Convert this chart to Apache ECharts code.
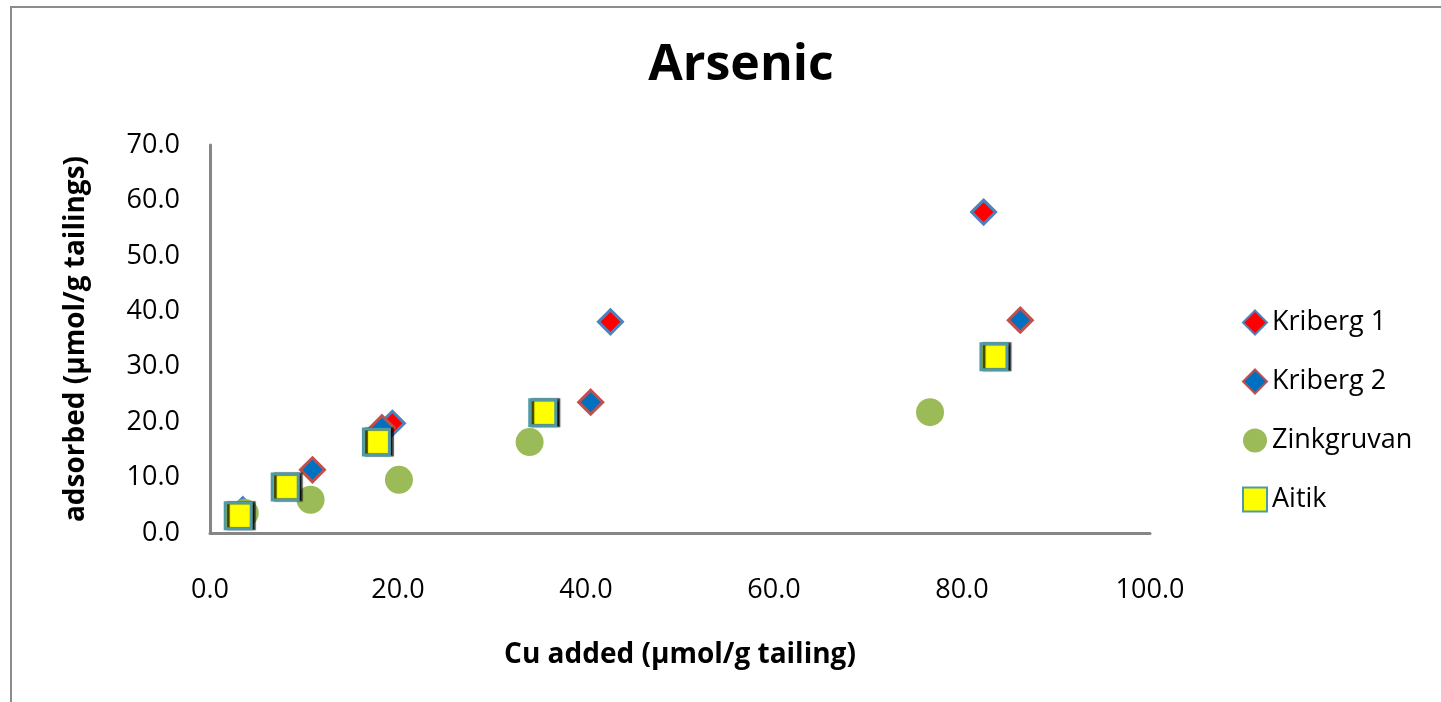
<!DOCTYPE html>
<html>
<head>
<meta charset="utf-8">
<title>Arsenic</title>
<script src="https://cdn.jsdelivr.net/npm/echarts@6/dist/echarts.min.js"></script>
<style>
    html, body { margin: 0; padding: 0; background: #fff; }
    #chart { width: 1441px; height: 702px; }
</style>
</head>
<body>
<div id="chart"></div>
<script>
// values: [Cu added, As adsorbed]
var kriberg1 = [[3.5, 4.2], [19.4, 19.8], [42.6, 38.1], [82.3, 57.9]];
var kriberg2 = [[10.9, 11.4], [18.3, 19.0], [40.5, 23.6], [86.2, 38.4]];
var zinkgruvan = [[3.7, 3.6], [10.7, 6.0], [20.1, 9.6], [34.0, 16.4], [76.6, 21.8]];
var aitik = [[3.0, 3.1], [8.0, 8.3], [17.7, 16.4], [35.4, 21.7], [83.4, 31.8]];
var seriesNames = ['Kriberg 1', 'Kriberg 2', 'Zinkgruvan', 'Aitik'];

var font = '"Open Sans", "Noto Sans", sans-serif';

function oneDecimal (v) {
    return v.toFixed(1);
}

function drawChart () {
    var myChart = echarts.init(document.getElementById('chart'));

    var option = {
        backgroundColor: '#fff',
        textStyle: { fontFamily: font },
        title: {
            text: 'Arsenic',
            left: 736,
            top: 36,
            textAlign: 'center',
            textStyle: { fontSize: 50, fontWeight: 'bold', color: '#000', fontFamily: font }
        },
        graphic: [
            {
                type: 'rect',
                shape: { x: 11, y: 7, width: 1500, height: 800 },
                style: { fill: 'none', stroke: '#8c8c8c', lineWidth: 2 },
                silent: true
            }
        ],
        legend: {
            orient: 'vertical',
            left: 1237,
            top: 299,
            itemWidth: 24,
            itemHeight: 24,
            itemGap: 22,
            textStyle: { fontSize: 27, color: '#000', fontFamily: font, lineHeight: 37 },
            data: seriesNames
        },
        grid: {
            left: 210,
            right: 291,
            top: 145,
            bottom: 169,
            containLabel: false
        },
        xAxis: {
            type: 'value',
            min: 0,
            max: 100,
            interval: 20,
            name: 'Cu added (µmol/g tailing)',
            nameLocation: 'middle',
            nameGap: 108,
            nameTextStyle: { fontSize: 28, fontWeight: 'bold', color: '#000', fontFamily: font },
            axisLine: { show: true, lineStyle: { color: '#868686', width: 3 } },
            axisTick: { show: false },
            splitLine: { show: false },
            axisLabel: { formatter: oneDecimal, fontSize: 27, color: '#000', margin: 44, fontFamily: font }
        },
        yAxis: {
            type: 'value',
            min: 0,
            max: 70,
            interval: 10,
            name: 'adsorbed (µmol/g tailings)',
            nameLocation: 'middle',
            nameGap: 120,
            nameTextStyle: { fontSize: 28, fontWeight: 'bold', color: '#000', fontFamily: font },
            axisLine: { show: true, lineStyle: { color: '#868686', width: 3 } },
            axisTick: { show: false },
            splitLine: { show: false },
            axisLabel: { formatter: oneDecimal, fontSize: 27, color: '#000', margin: 30, fontFamily: font }
        },
        series: [
            {
                name: 'Kriberg 1',
                type: 'scatter',
                symbol: 'diamond',
                symbolSize: 24,
                itemStyle: { color: '#ff0000', borderColor: '#4f81bd', borderWidth: 3, opacity: 1 },
                data: kriberg1
            },
            {
                name: 'Kriberg 2',
                type: 'scatter',
                symbol: 'diamond',
                symbolSize: 24,
                itemStyle: { color: '#0070c0', borderColor: '#c0504d', borderWidth: 3, opacity: 1 },
                data: kriberg2
            },
            {
                name: 'Zinkgruvan',
                type: 'scatter',
                symbol: 'circle',
                symbolSize: 28,
                itemStyle: { color: '#9bbb59', opacity: 1 },
                data: zinkgruvan
            },
            {
                name: 'Aitik',
                type: 'scatter',
                symbol: 'rect',
                symbolSize: 26,
                itemStyle: {
                    color: '#ffff00',
                    borderColor: '#4f9aa6',
                    borderWidth: 3,
                    shadowColor: 'rgba(0,0,0,0.75)',
                    shadowOffsetX: 3,
                    shadowBlur: 1,
                    opacity: 1
                },
                data: aitik
            }
        ]
    };

    myChart.setOption(option);
}

drawChart();
</script>
</body>
</html>
